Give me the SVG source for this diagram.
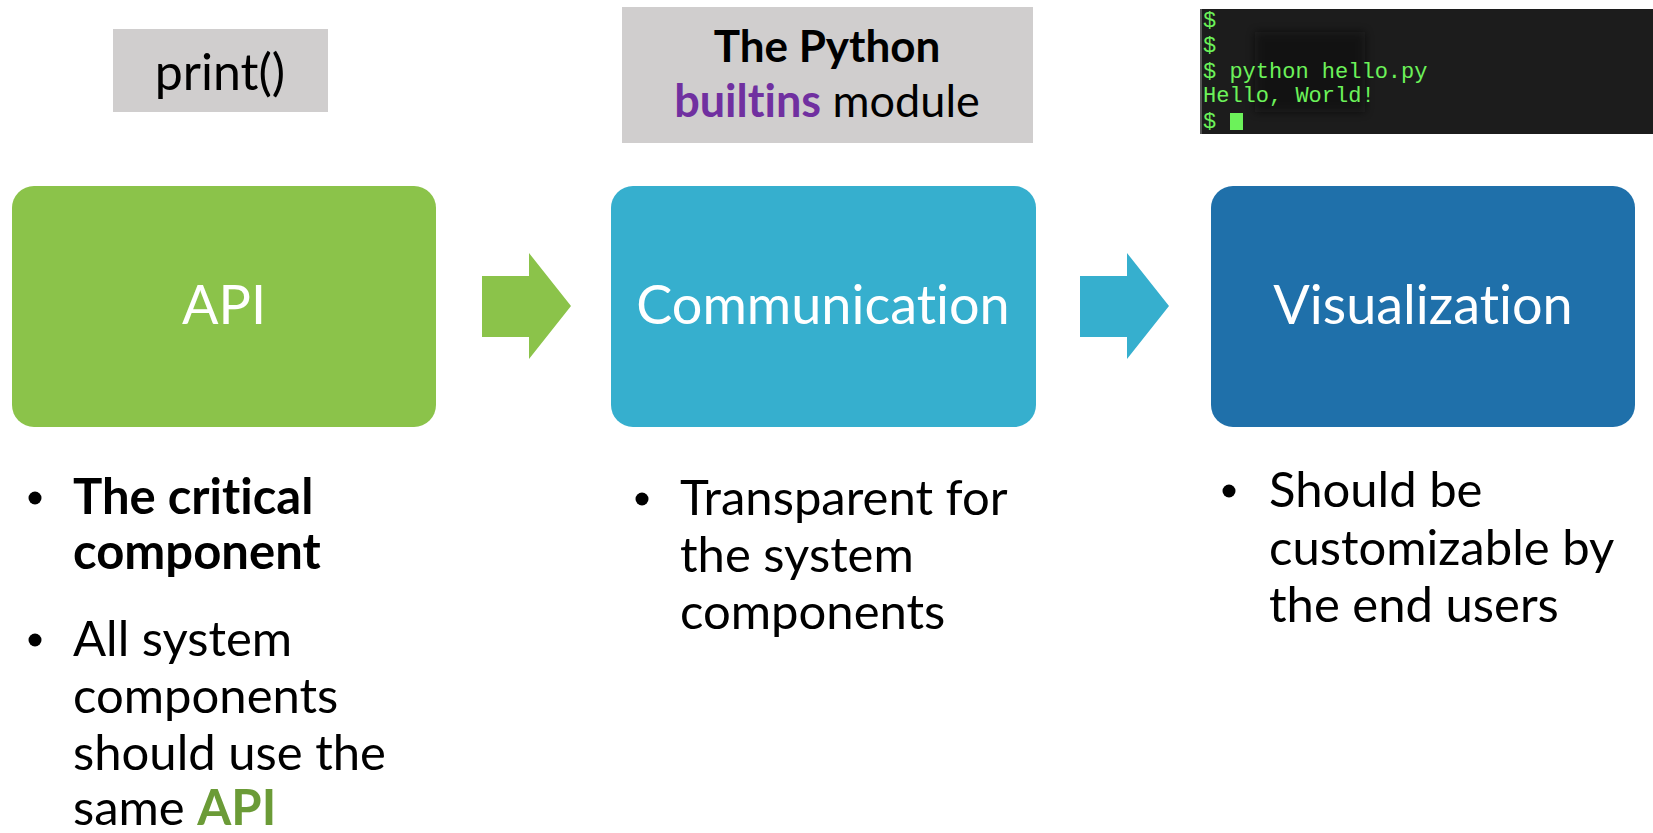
<svg xmlns="http://www.w3.org/2000/svg" width="1653" height="833" viewBox="0 0 1653 833">
  <defs>
    <style>
      .sans { font-family: Lato, "Open Sans", "Liberation Sans", sans-serif; font-variant-ligatures: none; }
      .label { fill: #d0cece; }
      .stage { font-size: 54px; fill: #ffffff; text-anchor: middle; }
      .body { font-size: 49px; fill: #000000; }
      .term { font-family: "Liberation Mono", "DejaVu Sans Mono", monospace; font-size: 22px; fill: #6cf25a; }
    </style>
    <filter id="soft" x="-20%" y="-20%" width="140%" height="140%">
      <feGaussianBlur stdDeviation="4"/>
    </filter>
  </defs>

  <rect width="1653" height="833" fill="#ffffff"/>

  <!-- caption above the API stage -->
  <g id="label-print">
    <rect class="label" x="113" y="29" width="215" height="83"/>
    <text class="sans" x="220" y="90" font-size="50" text-anchor="middle" fill="#000">print()</text>
  </g>

  <!-- caption above the Communication stage -->
  <g id="label-builtins">
    <rect class="label" x="622" y="7" width="411" height="136"/>
    <text class="sans" x="827" y="62" font-size="44" font-weight="bold" text-anchor="middle" fill="#000">The Python</text>
    <text class="sans" x="827" y="117" font-size="45" text-anchor="middle" fill="#000"><tspan font-weight="bold" fill="#7030a0">builtins</tspan> module</text>
  </g>

  <!-- terminal screenshot above the Visualization stage -->
  <g id="terminal">
    <rect x="1200" y="9" width="453" height="125" fill="#1c1c1c"/>
    <rect x="1200" y="9" width="2" height="125" fill="#555555"/>
    <rect x="1255" y="32" width="110" height="80" fill="#111111" opacity="0.6" filter="url(#soft)"/>
    <text class="term" x="1203" y="27">$</text>
    <text class="term" x="1203" y="52">$</text>
    <text class="term" x="1203" y="78">$ python hello.py</text>
    <text class="term" x="1203" y="102">Hello, World!</text>
    <text class="term" x="1203" y="128">$</text>
    <rect x="1230" y="113" width="13" height="17" fill="#6cf25a"/>
  </g>

  <!-- stage boxes -->
  <g id="node-api">
    <rect x="12" y="186" width="424" height="241" rx="22" fill="#8bc34a"/>
    <text class="sans stage" x="224" y="324">API</text>
  </g>
  <g id="node-communication">
    <rect x="611" y="186" width="425" height="241" rx="22" fill="#36afce"/>
    <text class="sans stage" x="823" y="324">Communication</text>
  </g>
  <g id="node-visualization">
    <rect x="1211" y="186" width="424" height="241" rx="22" fill="#1f70aa"/>
    <text class="sans stage" x="1423" y="324">Visualization</text>
  </g>

  <!-- flow arrows between stages -->
  <g id="connectors">
    <polygon points="482,276 529,276 529,253 571,306 529,359 529,337 482,337" fill="#8bc34a"/>
    <polygon points="1080,276 1127,276 1127,253 1169,306 1127,359 1127,337 1080,337" fill="#36afce"/>
  </g>

  <!-- notes under each stage -->
  <g id="notes-api" class="sans body">
    <circle cx="35" cy="498" r="6.5" fill="#000"/>
    <text x="73" y="514" font-weight="bold">The critical</text>
    <text x="73" y="569" font-weight="bold">component</text>
    <circle cx="35" cy="640" r="6.5" fill="#000"/>
    <text x="73" y="656">All system</text>
    <text x="73" y="713">components</text>
    <text x="73" y="770">should use the</text>
    <text x="73" y="825">same <tspan font-weight="bold" fill="#6b9b37">API</tspan></text>
  </g>
  <g id="notes-communication" class="sans body">
    <circle cx="642" cy="499" r="6.5" fill="#000"/>
    <text x="680" y="515">Transparent for</text>
    <text x="680" y="572">the system</text>
    <text x="680" y="629">components</text>
  </g>
  <g id="notes-visualization" class="sans body">
    <circle cx="1229" cy="491" r="6.5" fill="#000"/>
    <text x="1269" y="507">Should be</text>
    <text x="1269" y="565">customizable by</text>
    <text x="1269" y="622">the end users</text>
  </g>
</svg>
